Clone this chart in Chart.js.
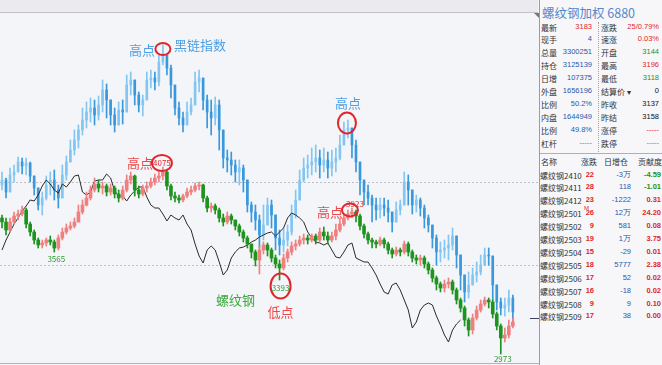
<!DOCTYPE html>
<html lang="zh">
<head>
<meta charset="UTF-8">
<title>螺纹钢加权 6880</title>
<script src="https://cdn.jsdelivr.net/npm/chart.js"></script>
<style>
  body { margin: 0; width: 662px; height: 365px; position: relative; overflow: hidden;
         background: #f4f5f9; font-family: "Noto Sans CJK SC", sans-serif; }
  #topbar { position: absolute; left: 0; top: 0; width: 538px; height: 12px; background: #ebebef; border-bottom: 1px solid #c2c2c6; }
  #corner { position: absolute; left: 534px; top: 13px; width: 0; height: 0;
            border-left: 5px solid transparent; border-top: 5px solid #777; }
  #plot { position: absolute; left: 0; top: 14px; }
  #baseline { position: absolute; left: 0; top: 363px; width: 539px; height: 1px; background: #b4b4b8; }
  #panel { position: absolute; left: 539px; top: 0; width: 123px; height: 365px; background: #f7f7fa; border-left: 1px solid #9c9c9c; }
  #vsep { position: absolute; left: 598px; top: 22px; height: 130px; border-left: 1px dotted #a0a0a0; }
  #hsep { position: absolute; left: 540px; top: 153px; width: 122px; height: 1px; background: #b0b0b0; }
  .c { position: absolute; height: 13px; line-height: 13px; white-space: nowrap; }
</style>
</head>
<body>
<div id="topbar"></div>
<div id="corner"></div>
<canvas id="plot" width="539" height="349"></canvas>
<div id="baseline"></div>
<div id="panel"></div>
<div id="vsep"></div>
<div id="hsep"></div>

<script>
// 每根K线一个位置, 共134格, 前128格有数据
const slotCount = 134;

// 黑链指数 (蓝色K线)
const blueOpen0 = 3980;
const blueClose = [4010,3938,4040,4058,4118,4094,4112,4034,3962,3860, 3902,3980,4010,3950,3902,4040,4118,4190,4250,4310,
  4370,4418,4442,4400,4460,4550,4490,4400,4340,4430, 4418,4580,4610,4520,4460,4490,4610,4622,4598,4718,
  4760,4682,4580,4442,4382,4340,4418,4460,4598,4622, 4490,4418,4382,4460,4310,4142,4130,4100,4058,4082,
  4010,3860,3818,3770,3680,3740,3860,3800,3662,3620, 3650,3698,3800,3890,4010,4082,4100,4118,4142,4100,
  4130,4082,4118,4142,4220,4310,4322,4220,4118,4010, 3938,3902,3860,3830,3860,3842,3818,3758,3830,3860,
  3998,3950,3860,3890,3842,3782,3740,3662,3578,3590, 3602,3620,3674,3560,3440,3338,3380,3440,3458,3500,
  3560,3554,3380,3278,3242,3260,3302,3218];
const blueHigh = [4058,4022,4082,4100,4148,4142,4142,4118,4034,3950, 3938,4034,4058,4070,3980,4100,4154,4250,4310,4340,
  4442,4478,4502,4490,4514,4610,4586,4490,4442,4478, 4490,4640,4658,4580,4538,4520,4658,4670,4658,4760,
  4820,4742,4700,4520,4478,4418,4478,4502,4658,4670, 4562,4520,4490,4508,4490,4208,4190,4178,4130,4130,
  4100,3950,3878,3860,3800,3860,3902,3890,3740,3710, 3722,3740,3860,3950,4070,4142,4160,4202,4220,4190,
  4202,4178,4190,4202,4280,4358,4370,4298,4250,4118, 3998,3980,3920,3902,3902,3902,3890,3818,3878,3890,
  4058,4040,3920,3920,3902,3860,3800,3740,3680,3638, 3650,3680,3722,3620,3518,3422,3458,3482,3518,3560,
  3602,3602,3518,3380,3302,3302,3350,3320];
const blueLow = [3950,3902,3974,3998,4058,4046,4040,3998,3920,3830, 3800,3890,3920,3890,3842,3950,4010,4142,4160,4202,
  4280,4322,4358,4340,4370,4418,4382,4340,4298,4340, 4346,4460,4520,4460,4418,4394,4520,4562,4550,4574,
  4700,4640,4502,4400,4340,4298,4370,4400,4520,4538, 4430,4322,4280,4340,4190,4082,4058,4040,3998,3980,
  3938,3818,3758,3710,3602,3650,3782,3722,3590,3560, 3578,3614,3680,3782,3920,3998,4022,4040,4058,4022,
  4058,4022,4034,4058,4130,4238,4262,4142,4058,3920, 3860,3860,3758,3770,3782,3794,3758,3698,3770,3800,
  3860,3860,3806,3818,3794,3722,3698,3602,3500,3518, 3542,3530,3590,3482,3350,3278,3302,3380,3398,3440,
  3518,3500,3290,3230,3200,3194,3218,3158];

// 螺纹钢 (红绿K线)
const rebarOpen0 = 3782;
const rebarClose = [3758,3710,3758,3794,3806,3830,3746,3698,3650,3620, 3632,3650,3638,3602,3662,3698,3722,3734,3758,3818,
  3860,3902,3950,3986,3962,3974,3938,3962,3926,3902, 3950,4010,4034,3950,3926,3962,3974,3998,4022,4034,
  4058,3974,3914,3902,3890,3914,3938,3950,3974,3980, 3902,3842,3854,3830,3782,3758,3794,3770,3734,3698,
  3662,3626,3578,3530,3590,3620,3590,3542,3506,3482, 3542,3578,3614,3626,3650,3662,3650,3674,3650,3698,
  3674,3650,3674,3710,3746,3782,3806,3818,3794,3734, 3686,3650,3638,3626,3650,3626,3590,3566,3590,3578,
  3626,3578,3542,3530,3542,3506,3470,3422,3386,3362, 3386,3398,3350,3290,3242,3170,3110,3182,3230,3266,
  3290,3278,3206,3134,3062,3080,3134,3158];
const rebarHigh = [3800,3782,3782,3818,3830,3854,3842,3758,3710,3662, 3650,3662,3674,3650,3680,3722,3746,3758,3782,3860,
  3890,3938,3974,4022,4010,3998,3986,3986,3974,3950, 3974,4040,4058,4040,3974,3980,3998,4022,4046,4058,
  4088,4070,3986,3938,3920,3926,3962,3974,3992,3998, 3986,3914,3872,3866,3842,3806,3818,3806,3770,3746,
  3710,3674,3626,3590,3614,3638,3632,3602,3560,3530, 3566,3596,3638,3650,3674,3686,3680,3686,3686,3722,
  3728,3698,3698,3746,3782,3806,3830,3842,3830,3806, 3746,3698,3662,3650,3668,3662,3638,3602,3608,3602,
  3644,3638,3590,3560,3560,3554,3518,3482,3434,3398, 3410,3422,3410,3362,3302,3254,3182,3206,3254,3290,
  3308,3302,3290,3218,3146,3122,3170,3182];
const rebarLow = [3722,3680,3698,3746,3770,3794,3722,3674,3626,3602, 3602,3614,3620,3578,3590,3650,3686,3710,3722,3770,
  3806,3854,3890,3938,3938,3926,3914,3920,3902,3878, 3890,3938,3986,3914,3902,3914,3938,3962,3980,3998,
  4010,3950,3890,3878,3872,3878,3902,3920,3938,3950, 3878,3818,3818,3806,3758,3734,3746,3746,3710,3674,
  3638,3602,3542,3494,3446,3566,3554,3518,3482,3410, 3470,3518,3560,3590,3614,3626,3626,3638,3626,3638,
  3650,3626,3638,3650,3698,3734,3770,3782,3758,3710, 3662,3626,3602,3602,3614,3602,3566,3542,3554,3554,
  3566,3554,3518,3506,3500,3482,3446,3398,3350,3338, 3338,3362,3326,3266,3218,3134,3074,3086,3170,3218,
  3254,3242,3182,3110,2966,3038,3062,3122];

// 黑色细线
const blackLine = [3590,3650,3698,3746,3782,3824,3854,3890,3884,3920, 3974,4010,3986,3950,3932,3986,3968,3998,4034,4040,
  3938,3920,3938,4004,4010,4010,4046,4022,3944,3914, 3914,3884,3920,3944,3968,3968,3908,3860,3842,3842,
  3806,3764,3800,3782,3770,3800,3746,3710,3626,3554, 3512,3590,3614,3590,3518,3440,3470,3542,3578,3602,
  3608,3620,3638,3650,3668,3680,3692,3698,3674,3698, 3722,3782,3812,3800,3782,3758,3698,3662,3638,3632,
  3620,3632,3590,3548,3542,3578,3620,3632,3542,3530, 3518,3518,3482,3440,3386,3338,3326,3380,3392,3350,
  3290,3230,3122,3158,3230,3260,3272,3260,3194,3140, 3080,3038,3110,3146,3170];

const gridLevels = [4000, 3500];
const lastPrice = 3183;

// 右侧报价
const quoteRows = [
  ['最新', '3183', 'r', '涨跌', '25/0.79%', 'r'],
  ['现手', '4', 'b', '速涨', '0.03%', 'r'],
  ['总量', '3300251', 'b', '开盘', '3144', 'g'],
  ['持仓', '3125139', 'b', '最高', '3196', 'r'],
  ['日增', '107375', 'b', '最低', '3118', 'g'],
  ['外盘', '1656196', 'b', '结算价 ▾', '0', 'k'],
  ['比例', '50.2%', 'b', '昨收', '3137', 'k'],
  ['内盘', '1644949', 'b', '昨结', '3158', 'k'],
  ['比例', '49.8%', 'b', '涨停', '-----', 'r'],
  ['杠杆', '-----', 'n', '跌停', '-----', 'n']
];
const contractNames = ['2410','2411','2412','2501','2502','2503','2504','2505','2506','2507','2508','2509'];
const contractChange = [22, 28, 23, 26, 9, 19, 15, 18, 17, 16, 9, 17];
const contractOI = ['-3万', '118', '-1222', '12万', '581', '1万', '-29', '5777', '52', '-18', '9', '38'];
const contractShare = ['-4.59', '-1.01', '0.31', '24.20', '0.08', '3.75', '0.01', '2.38', '0.02', '0.02', '0.10', '0.00'];

const ink = { r: '#e2262b', g: '#1a9320', b: '#2a58a8', k: '#111111', n: '#777777' };

function candles(open0, close, high, low, up, down) {
  const body = [], wick = [], color = [];
  close.forEach((c, i) => {
    const o = i ? close[i - 1] : open0;
    body.push([o, c]);
    wick.push([Math.min(low[i], o, c), Math.max(high[i], o, c)]);
    color.push(c >= o ? up : down);
  });
  return { body, wick, color };
}

const blue = candles(blueOpen0, blueClose, blueHigh, blueLow, '#84c6f2', '#3a98dc');
const rebar = candles(rebarOpen0, rebarClose, rebarHigh, rebarLow, '#f08080', '#1f931f');

const gridPlugin = {
  id: 'grid',
  beforeDatasetsDraw(chart) {
    const g = chart.ctx, ys = chart.scales.y, a = chart.chartArea;
    g.save();
    g.strokeStyle = '#bdbdc4';
    g.lineWidth = 1;
    g.setLineDash([2, 2]);
    gridLevels.forEach(v => {
      const y = Math.round(ys.getPixelForValue(v)) + 0.5;
      g.beginPath(); g.moveTo(a.left, y); g.lineTo(a.right, y); g.stroke();
    });
    g.restore();
  }
};

const notePlugin = {
  id: 'notes',
  afterDatasetsDraw(chart) {
    const g = chart.ctx, xs = chart.scales.x, ys = chart.scales.y;
    const pt = (i, v) => [xs.getPixelForValue(i), ys.getPixelForValue(v)];
    const ring = (p, dx, dy, rx, ry) => {
      g.beginPath();
      g.ellipse(p[0] + dx, p[1] + dy, rx, ry, 0, 0, Math.PI * 2);
      g.strokeStyle = '#e0262c'; g.lineWidth = 2; g.stroke();
    };
    const text = (t, p, dx, dy, color, size) => {
      g.font = size + 'px "Noto Sans CJK SC"';
      g.fillStyle = color; g.textAlign = 'center'; g.textBaseline = 'middle';
      g.fillText(t, p[0] + dx, p[1] + dy);
    };
    g.save();
    const blueTop = pt(40, blueHigh[40]);
    ring(blueTop, 0, 4, 7.5, 6);
    text('高点', blueTop, -21, 5, '#4d9fe2', 13);
    text('黑链指数', blueTop, 37, 0, '#4d9fe2', 13);

    const rebarTop = pt(40, rebarHigh[40]);
    ring(rebarTop, -1, -4, 10, 8);
    text('4075', rebarTop, -1, -4, '#e0262c', 8);
    text('高点', rebarTop, -23, -4, '#ea4a4a', 13);

    const blueTop2 = pt(86, blueHigh[86]);
    ring(blueTop2, -1, 3, 9, 10.5);
    text('高点', blueTop2, 0, -17, '#4d9fe2', 13);

    const rebarTop2 = pt(87, rebarHigh[87]);
    text('3923', rebarTop2, 3, -4, '#e0262c', 8);
    ring(rebarTop2, -2, 2, 8, 6.5);
    text('高点', rebarTop2, -22, 4, '#ea4a4a', 13);

    text('3565', pt(13, rebarLow[13]), 2, 7, '#2a9a2a', 8);

    const rebarLow2 = pt(69, rebarLow[69]);
    ring(rebarLow2, 1, 6, 10, 12.5);
    text('3393', rebarLow2, 1, 8, '#2a9a2a', 8);
    text('低点', rebarLow2, 1, 32, '#ea4a4a', 13);

    text('2973', pt(124, rebarLow[124]), 2, 5, '#2a9a2a', 8);
    text('螺纹钢', pt(64, rebarLow[64]), -24, 26, '#3aa83a', 13);

    // 最新价标记
    const yLast = Math.round(ys.getPixelForValue(lastPrice)) + 0.5;
    g.beginPath(); g.moveTo(530, yLast); g.lineTo(chart.chartArea.right, yLast);
    g.strokeStyle = '#3a4466'; g.lineWidth = 1; g.stroke();
    g.restore();
  }
};

const labels = Array.from({ length: slotCount }, (_, i) => i);

new Chart(document.getElementById('plot'), {
  data: {
    labels,
    datasets: [
      { type: 'line', data: blackLine, borderColor: '#2a2a2a', borderWidth: 1, pointRadius: 0, tension: 0, order: 2 },
      { type: 'bar', data: blue.wick, backgroundColor: blue.color, barThickness: 1, grouped: false, order: 3 },
      { type: 'bar', data: blue.body, backgroundColor: blue.color, barThickness: 2, grouped: false, minBarLength: 1, order: 3 },
      { type: 'bar', data: rebar.wick, backgroundColor: rebar.color, barThickness: 1, grouped: false, order: 1 },
      { type: 'bar', data: rebar.body, backgroundColor: rebar.color, barThickness: 3, grouped: false, minBarLength: 1, order: 1 }
    ]
  },
  options: {
    responsive: false,
    animation: false,
    events: [],
    layout: { padding: 0 },
    plugins: { legend: { display: false }, tooltip: { enabled: false } },
    scales: {
      x: { type: 'category', display: false, offset: true },
      y: { type: 'linear', display: false, min: 2912, max: 5006 }
    }
  },
  plugins: [gridPlugin, notePlugin]
});

// 右侧面板
function put(t, pos, top, color, font) {
  const d = document.createElement('div');
  d.className = 'c';
  d.textContent = t;
  if (pos.left !== undefined) d.style.left = pos.left + 'px';
  else d.style.right = (662 - pos.right) + 'px';
  d.style.top = top + 'px';
  d.style.color = color;
  d.style.font = font;
  document.body.appendChild(d);
  return d;
}
const cjk = '8px "Noto Sans CJK SC"';
const num = '7.5px "Liberation Sans"';

put('螺纹钢加权 6880', { left: 542 }, 4, '#5587c8', '12.5px "Noto Sans CJK SC"').style.lineHeight = '17px';

quoteRows.forEach((r, k) => {
  const top = 21.5 + 12.9 * k;
  put(r[0], { left: 541 }, top, '#333', cjk);
  put(r[1], { right: 592 }, top, ink[r[2]], num);
  put(r[3], { left: 601 }, top, '#333', cjk);
  put(r[4], { right: 659 }, top, ink[r[5]], num);
});

put('名称', { left: 541 }, 155.5, '#333', cjk);
put('涨跌', { right: 597 }, 155.5, '#333', cjk);
put('日增仓', { right: 628 }, 155.5, '#333', cjk);
put('贡献度', { right: 662 }, 155.5, '#333', cjk);

contractNames.forEach((n, k) => {
  const top = 169.5 + 12.9 * k;
  put('螺纹钢' + n, { left: 540 }, top, '#333', '8px "Noto Sans CJK SC"');
  if (n === '2501') put('M', { left: 584 }, top - 3, ink.r, '6px "Liberation Sans"');
  put(String(contractChange[k]), { right: 594 }, top, ink.r, 'bold ' + num);
  put(contractOI[k], { right: 631 }, top, ink.b, num);
  put(contractShare[k], { right: 661 }, top, contractShare[k].startsWith('-') ? ink.g : ink.r, 'bold ' + num);
});
</script>
</body>
</html>
